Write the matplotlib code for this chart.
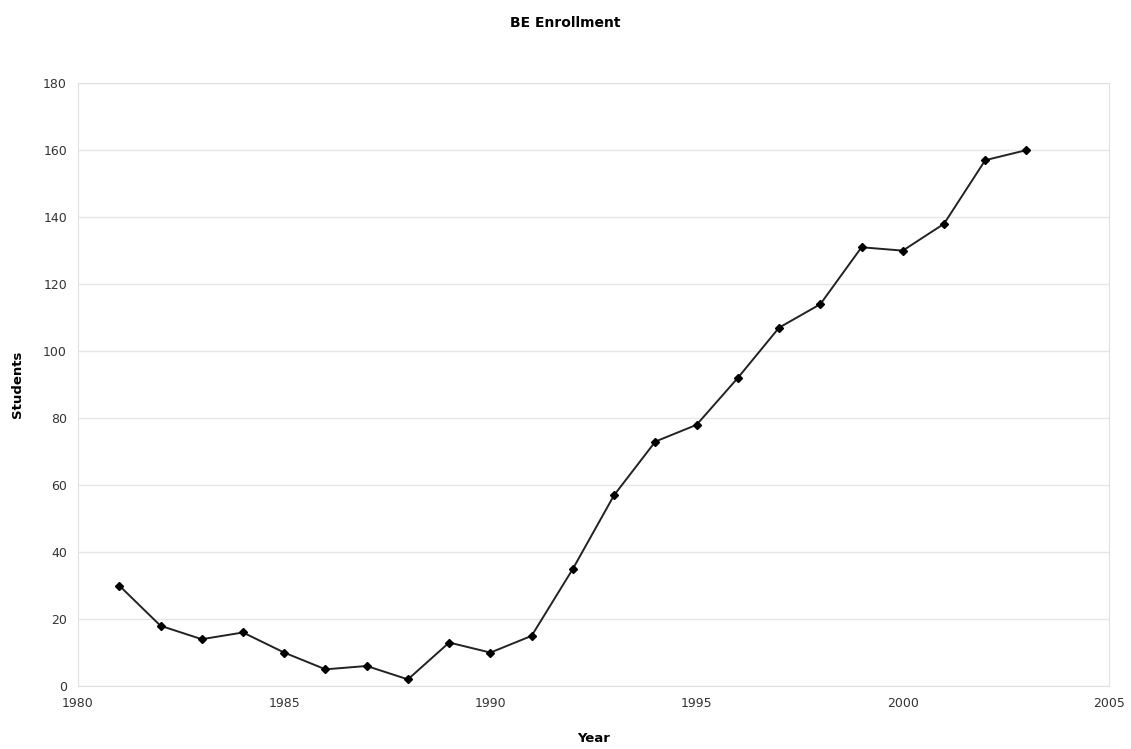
import matplotlib.pyplot as plt

# Dati
anni = [1981, 1982, 1983, 1984, 1985, 1986, 1987, 1988, 1989, 1990, 1991, 1992,
        1993, 1994, 1995, 1996, 1997, 1998, 1999, 2000, 2001, 2002, 2003]
studenti = [30, 18, 14, 16, 10, 5, 6, 2, 13, 10, 15, 35,
            57, 73, 78, 92, 107, 114, 131, 130, 138, 157, 160]

fig = plt.figure(figsize=(11.31, 7.49), dpi=100)
ax = fig.add_axes([0.069, 0.084, 0.9115, 0.805])

ax.plot(anni, studenti, color='#222222', linewidth=1.4,
        marker='D', markersize=4.5, markerfacecolor='black', markeredgecolor='black')

ax.set_xlim(1980, 2005)
ax.set_ylim(0, 180)
ax.set_xticks(range(1980, 2006, 5))
ax.set_yticks(range(0, 181, 20))

ax.grid(axis='y', color='#e6e6e6', linewidth=1)
ax.set_axisbelow(True)
for s in ax.spines.values():
    s.set_color('#e0e0e0')
ax.tick_params(length=0, labelsize=9, labelcolor='#333333', pad=8)

ax.set_xlabel('Year', fontsize=9.5, fontweight='bold', labelpad=16)
ax.set_ylabel('Students', fontsize=9.5, fontweight='bold', labelpad=14)
fig.suptitle('BE Enrollment', fontsize=10, fontweight='bold', y=0.978)

fig.savefig('out.png', dpi=100)
